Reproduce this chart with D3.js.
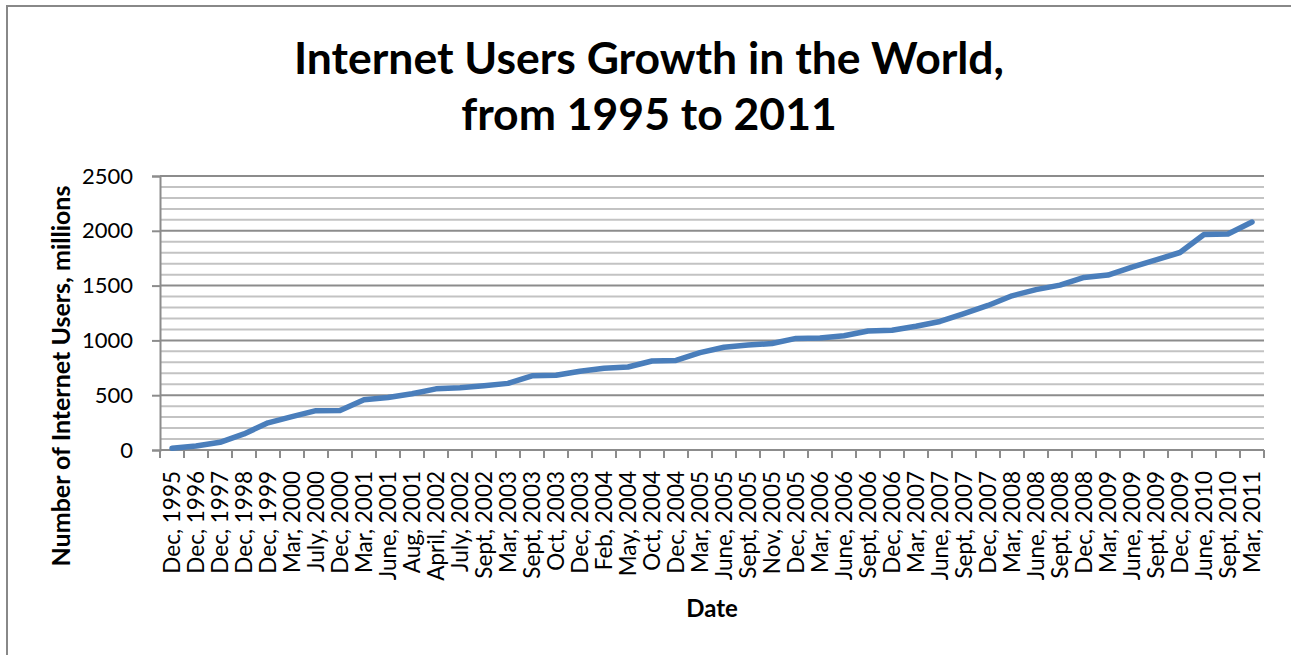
<!DOCTYPE html>
<html>
<head>
<meta charset="utf-8">
<script src="https://cdn.jsdelivr.net/npm/d3@7/dist/d3.min.js"></script>
<style>
  html, body { margin: 0; padding: 0; background: #fff; }
  svg { display: block; }
  text { font-family: Lato, "Open Sans", sans-serif; fill: #000; }
</style>
</head>
<body>
<svg id="chart" width="1291" height="655"></svg>
<script>
// Survey dates (x categories)
const dates = [
  "Dec, 1995", "Dec, 1996", "Dec, 1997", "Dec, 1998", "Dec, 1999",
  "Mar, 2000", "July, 2000", "Dec, 2000", "Mar, 2001", "June, 2001",
  "Aug, 2001", "April, 2002", "July, 2002", "Sept, 2002", "Mar, 2003",
  "Sept, 2003", "Oct, 2003", "Dec, 2003", "Feb, 2004", "May, 2004",
  "Oct, 2004", "Dec, 2004", "Mar, 2005", "June, 2005", "Sept, 2005",
  "Nov, 2005", "Dec, 2005", "Mar, 2006", "June, 2006", "Sept, 2006",
  "Dec, 2006", "Mar, 2007", "June, 2007", "Sept, 2007", "Dec, 2007",
  "Mar, 2008", "June, 2008", "Sept, 2008", "Dec, 2008", "Mar, 2009",
  "June, 2009", "Sept, 2009", "Dec, 2009", "June, 2010", "Sept, 2010",
  "Mar, 2011"
];

// Internet users worldwide, millions
const users = [
  16, 36, 70, 147, 248,
  304, 359, 361, 458, 479,
  513, 558, 569, 587, 608,
  677, 682, 719, 745, 757,
  812, 817, 888, 938, 957,
  972, 1018, 1022, 1043, 1086,
  1093, 1129, 1173, 1244, 1319,
  1407, 1463, 1504, 1574, 1596,
  1669, 1734, 1802, 1966, 1971,
  2080
];

const yMajorTicks = [0, 500, 1000, 1500, 2000, 2500];
const yMinorTicks = d3.range(0, 2501, 100);

const svg = d3.select("#chart");
const plot = { left: 160, right: 1264, top: 176, bottom: 450 };

// Outer chart frame
svg.append("rect")
  .attr("x", 7).attr("y", 6)
  .attr("width", 1400).attr("height", 800)
  .attr("fill", "none").attr("stroke", "#888").attr("stroke-width", 2);

const x = d3.scaleBand().domain(dates).range([plot.left, plot.right]).padding(0);
const y = d3.scaleLinear().domain([0, 2500]).range([plot.bottom, plot.top]);

// Minor gridlines
svg.append("g")
  .selectAll("line").data(yMinorTicks.filter(v => v % 500 !== 0)).join("line")
  .attr("x1", plot.left).attr("x2", plot.right)
  .attr("y1", d => y(d)).attr("y2", d => y(d))
  .attr("stroke", "#c3c3c3").attr("stroke-width", 2);

// Major gridlines
svg.append("g")
  .selectAll("line").data(yMajorTicks.filter(v => v > 0)).join("line")
  .attr("x1", plot.left).attr("x2", plot.right)
  .attr("y1", d => y(d)).attr("y2", d => y(d))
  .attr("stroke", "#8c8c8c").attr("stroke-width", 2);

// Y axis
const yAxis = svg.append("g")
  .attr("transform", `translate(${plot.left},0)`)
  .call(d3.axisLeft(y).tickValues(yMajorTicks).tickFormat(d3.format("d")).tickSize(8).tickPadding(19));
yAxis.select(".domain").attr("stroke", "#8c8c8c").attr("stroke-width", 2);
yAxis.selectAll(".tick line").attr("stroke", "#8c8c8c").attr("stroke-width", 2);
yAxis.selectAll(".tick text")
  .style("font-family", "Lato, 'Open Sans', sans-serif")
  .style("font-size", "22px").attr("fill", "#000");

// X axis: ticks at category boundaries, labels centred in each band
const xAxisG = svg.append("g").attr("transform", `translate(0,${plot.bottom})`);
xAxisG.append("line")
  .attr("x1", plot.left).attr("x2", plot.right)
  .attr("stroke", "#8c8c8c").attr("stroke-width", 2);
xAxisG.selectAll("line.tk").data(dates.concat(["__end"])).join("line")
  .attr("class", "tk")
  .attr("x1", (d, i) => plot.left + i * x.bandwidth())
  .attr("x2", (d, i) => plot.left + i * x.bandwidth())
  .attr("y1", 0).attr("y2", 8)
  .attr("stroke", "#8c8c8c").attr("stroke-width", 2);
xAxisG.selectAll("text").data(dates).join("text")
  .attr("transform", d => `translate(${x(d) + x.bandwidth() / 2 + 7.5},21) rotate(-90)`)
  .attr("text-anchor", "end")
  .style("font-size", "22.5px")
  .text(d => d);

// Data line
const line = d3.line()
  .x((d, i) => x(dates[i]) + x.bandwidth() / 2)
  .y(d => y(d));
svg.append("path")
  .datum(users)
  .attr("d", line)
  .attr("fill", "none")
  .attr("stroke", "#4a7ebb")
  .attr("stroke-width", 5.5)
  .attr("stroke-linejoin", "round")
  .attr("stroke-linecap", "round");

// Titles
const title = svg.append("text")
  .attr("text-anchor", "middle")
  .style("font-size", "44.5px").style("font-weight", "bold");
title.append("tspan").attr("x", 649).attr("y", 74).text("Internet Users Growth in the World,");
title.append("tspan").attr("x", 649).attr("y", 130).text("from 1995 to 2011");

svg.append("text")
  .attr("transform", "translate(70,376) rotate(-90)")
  .attr("text-anchor", "middle")
  .style("font-size", "25px").style("font-weight", "bold")
  .text("Number of Internet Users, millions");

svg.append("text")
  .attr("x", (plot.left + plot.right) / 2).attr("y", 617)
  .attr("text-anchor", "middle")
  .style("font-size", "24px").style("font-weight", "bold")
  .text("Date");
</script>
</body>
</html>
